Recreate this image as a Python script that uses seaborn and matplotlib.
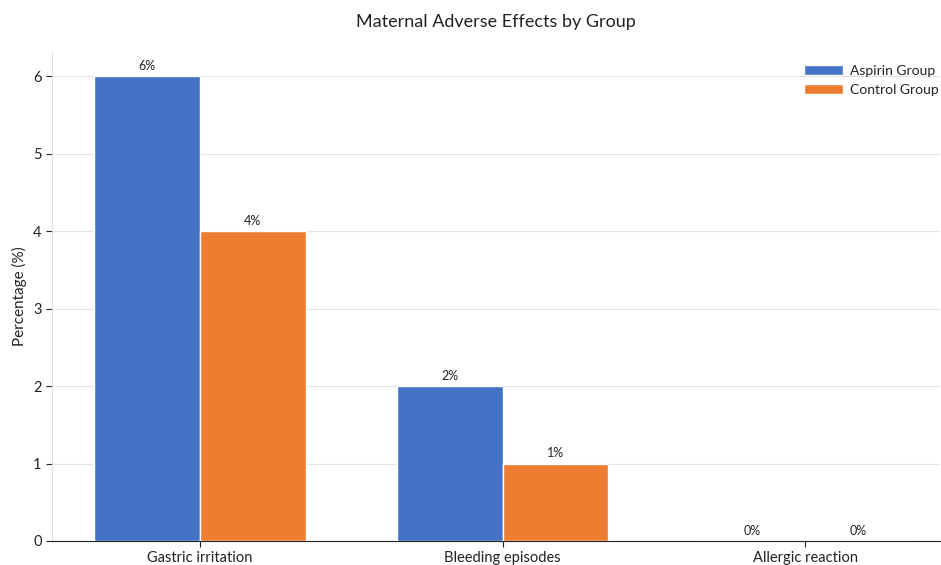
import pandas as pd
import seaborn as sns
import matplotlib.pyplot as plt

effects = ['Gastric irritation', 'Bleeding episodes', 'Allergic reaction']
aspirin = [6, 2, 0]
control = [4, 1, 0]
groups = ['Aspirin Group', 'Control Group']

df = pd.DataFrame({
    'Effect': effects * 2,
    'Percentage': aspirin + control,
    'Group': [groups[0]] * 3 + [groups[1]] * 3,
})

sns.set_style('white')
plt.rcParams['font.family'] = ['Lato', 'DejaVu Sans']

fig = plt.figure(figsize=(9.41, 5.65), dpi=100)
ax = fig.add_axes([52 / 941, 24 / 565, 888 / 941, 489 / 565])

sns.barplot(data=df, x='Effect', y='Percentage', hue='Group',
            palette=['#4472C4', '#ED7D31'], saturation=1, width=0.7, gap=0,
            edgecolor='white', linewidth=1, ax=ax, zorder=3)

for c in ax.containers:
    ax.bar_label(c, labels=[f'{v:.0f}%' for v in c.datavalues],
                 padding=3, fontsize=9, color='#222222')

ax.set_xlim(-0.489, 2.446)
ax.set_ylim(0, 6.31)
ax.yaxis.grid(True, color='#e3e3e3', linewidth=0.8, zorder=0)
ax.set_axisbelow(True)
ax.spines['top'].set_visible(False)
ax.spines['right'].set_visible(False)
ax.spines['left'].set_color('#dddddd')
ax.spines['bottom'].set_color('#222222')
ax.tick_params(axis='both', length=4, color='#222222', labelsize=10.5, left=True, bottom=True,
               labelcolor='#222222')
ax.set_xlabel('')
ax.set_ylabel('Percentage (%)', fontsize=11, color='#222222')
ax.set_title('Maternal Adverse Effects by Group', fontsize=13, pad=18, color='#222222')

leg = ax.legend(loc='upper right', frameon=False, fontsize=10,
                bbox_to_anchor=(1.005, 0.985), borderaxespad=0, handlelength=2.8,
                handletextpad=0.5)
for t in leg.get_texts():
    t.set_color('#222222')

fig.savefig('out.png', dpi=100)
